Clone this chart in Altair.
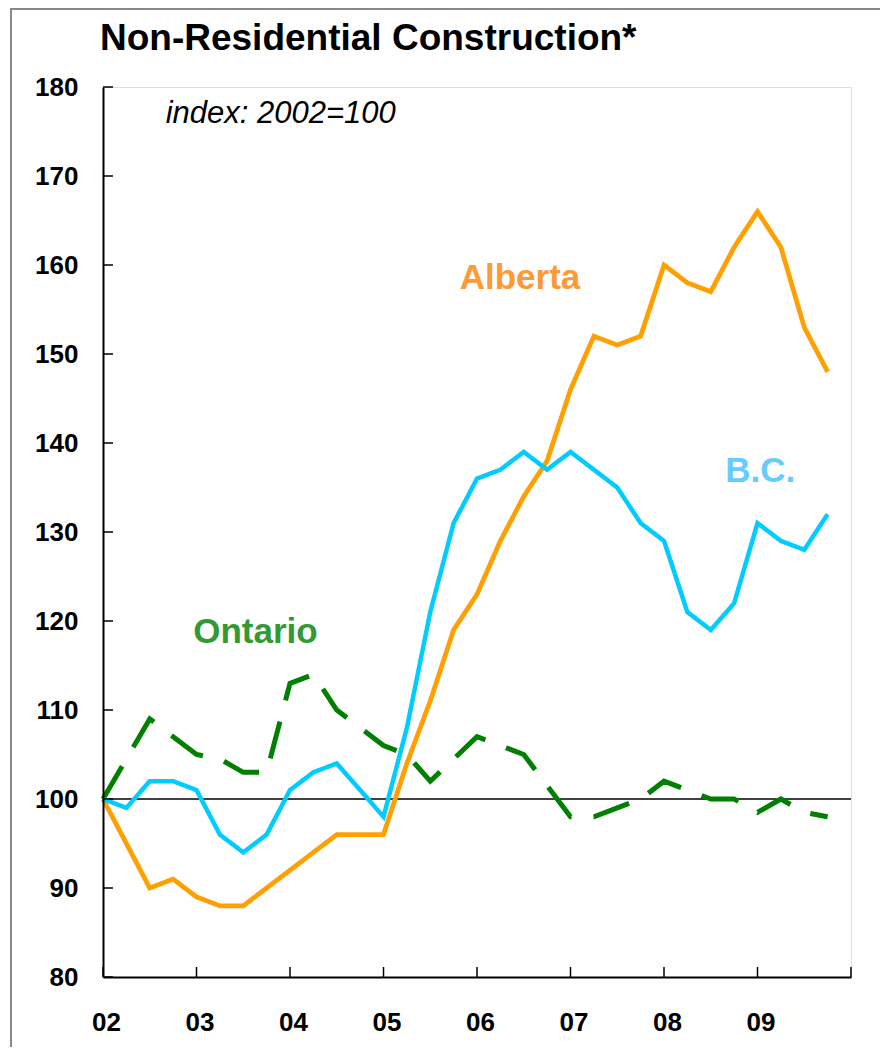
import json
import altair as alt
import pandas as pd

# ---------------- data ----------------
years = [2002, 2003, 2004, 2005, 2006, 2007, 2008, 2009]
quarters = [1, 2, 3, 4]

alberta = [100, 95, 90, 91,
           89, 88, 88, 90,
           92, 94, 96, 96,
           96, 104, 111, 119,
           123, 129, 134, 138,
           146, 152, 151, 152,
           160, 158, 157, 162,
           166, 162, 153, 148]

bc = [100, 99, 102, 102,
      101, 96, 94, 96,
      101, 103, 104, 101,
      98, 108, 121, 131,
      136, 137, 139, 137,
      139, 137, 135, 131,
      129, 121, 119, 122,
      131, 129, 128, 132]

ontario = [100, 104.5, 109, 107,
           105, 104.5, 103, 103,
           113, 114, 110, 108,
           106, 105, 102, 104.5,
           107, 106, 105, 101.5,
           98, 98, 99, 100,
           102, 101, 100, 100,
           98.5, 100, 98.5, 98]

series_names = ["Ontario", "Alberta", "B.C."]
series_values = {"Ontario": ontario, "Alberta": alberta, "B.C.": bc}
line_colors = ["#008000", "#FF9F00", "#00CCFF"]
label_colors = ["#339933", "#FF9933", "#66CCFF"]
line_dashes = [[38, 22], [1, 0], [1, 0]]
line_widths = [5, 4.5, 4.5]

# label positions (data coordinates)
label_x = [2003.63, 2006.46, 2009.03]
label_y = [117.5, 157.3, 135.6]

x_ticks = [2002, 2003, 2004, 2005, 2006, 2007, 2008, 2009, 2010]
x_tick_labels = ["02", "03", "04", "05", "06", "07", "08", "09", ""]
y_ticks = [80, 90, 100, 110, 120, 130, 140, 150, 160, 170, 180]

title_text = "Non-Residential Construction*"
note_text = "index: 2002=100"
note_x, note_y = 2002.67, 175.9

# ---------------- tables ----------------
rows = []
for name in series_names:
    vals = series_values[name]
    i = 0
    for yr in years:
        for q in quarters:
            rows.append({"series": name, "t": yr + (q - 1) / 4.0, "value": vals[i]})
            i += 1
df = pd.DataFrame(rows)

labels_df = pd.DataFrame({"label": series_names, "x": label_x, "y": label_y})
note_df = pd.DataFrame({"x": [note_x], "y": [note_y], "text": [note_text]})
xt_df = pd.DataFrame({"t": x_ticks})
yt_df = pd.DataFrame({"v": y_ticks})
ref_df = pd.DataFrame({"v": [100]})

W, H = 748, 890
FONT = "Liberation Sans"

x_scale = alt.Scale(domain=[2002, 2010], nice=False, zero=False)
y_scale = alt.Scale(domain=[80, 180], nice=False, zero=False)

label_expr = "{}[indexof({}, datum.value)]".format(json.dumps(x_tick_labels), json.dumps(x_ticks))

x_axis = alt.Axis(values=x_ticks, labelExpr=label_expr, tickSize=0, grid=False, title=None,
                  domainColor="black", domainWidth=2, labelFont=FONT, labelFontSize=26,
                  labelFontWeight="bold", labelColor="black", labelPadding=32,
                  labelBaseline="top", labelOffset=3, labelFlush=False, labelOverlap=False,
                  zindex=1)
y_axis = alt.Axis(values=y_ticks, tickSize=0, grid=False, title=None,
                  domainColor="black", domainWidth=2, labelFont=FONT, labelFontSize=26,
                  labelFontWeight="bold", labelColor="black", labelPadding=25,
                  labelFlush=False, labelOverlap=False, zindex=1)

lines = alt.Chart(df).mark_line(strokeCap="butt", strokeJoin="miter").encode(
    x=alt.X("t:Q", scale=x_scale, axis=x_axis),
    y=alt.Y("value:Q", scale=y_scale, axis=y_axis),
    color=alt.Color("series:N", scale=alt.Scale(domain=series_names, range=line_colors), legend=None),
    strokeDash=alt.StrokeDash("series:N", scale=alt.Scale(domain=series_names, range=line_dashes), legend=None),
    strokeWidth=alt.StrokeWidth("series:N", scale=alt.Scale(domain=series_names, range=line_widths), legend=None),
    order="t:Q",
)

ref_line = alt.Chart(ref_df).mark_rule(color="black", strokeWidth=1.5).encode(
    y=alt.Y("v:Q", scale=y_scale)
)

y_tick_marks = alt.Chart(yt_df).mark_rule(color="black", strokeWidth=1.5).encode(
    y=alt.Y("v:Q", scale=y_scale), x=alt.value(0), x2=alt.value(10)
)
x_tick_marks = alt.Chart(xt_df).mark_rule(color="black", strokeWidth=1.5).encode(
    x=alt.X("t:Q", scale=x_scale), y=alt.value(H), y2=alt.value(H - 10)
)

series_labels = alt.Chart(labels_df).mark_text(
    font=FONT, fontSize=35, fontWeight="bold", align="center", baseline="alphabetic"
).encode(
    x=alt.X("x:Q", scale=x_scale),
    y=alt.Y("y:Q", scale=y_scale),
    text="label:N",
    fill=alt.Fill("label:N", scale=alt.Scale(domain=series_names, range=label_colors), legend=None),
)

note = alt.Chart(note_df).mark_text(
    font=FONT, fontSize=31, fontStyle="italic", align="left", baseline="alphabetic", color="black"
).encode(
    x=alt.X("x:Q", scale=x_scale), y=alt.Y("y:Q", scale=y_scale), text="text:N"
)

title = alt.Chart(pd.DataFrame({"text": [title_text]})).mark_text(
    font=FONT, fontSize=37, fontWeight="bold", align="left", baseline="alphabetic", color="black"
).encode(x=alt.value(-3), y=alt.value(-37), text="text:N")

# outer picture frame (only its left and top edges fall inside the picture)
frame = alt.Chart(pd.DataFrame({"k": [0]})).mark_rect(
    fillOpacity=0, stroke="#888888", strokeWidth=2
).encode(
    x=alt.value(-92), x2=alt.value(950), y=alt.value(-78), y2=alt.value(1100)
)

chart = alt.layer(
    frame, ref_line, lines, y_tick_marks, x_tick_marks, series_labels, note, title
).resolve_scale(
    color="independent", fill="independent"
).properties(
    width=W, height=H,
    autosize=alt.AutoSizeParams(type="none"),
    padding={"left": 95, "top": 79, "right": 29, "bottom": 70},
).configure_view(stroke=None).configure(background="white")

chart.save("out.html", embed_options={"renderer": "svg", "actions": False})
